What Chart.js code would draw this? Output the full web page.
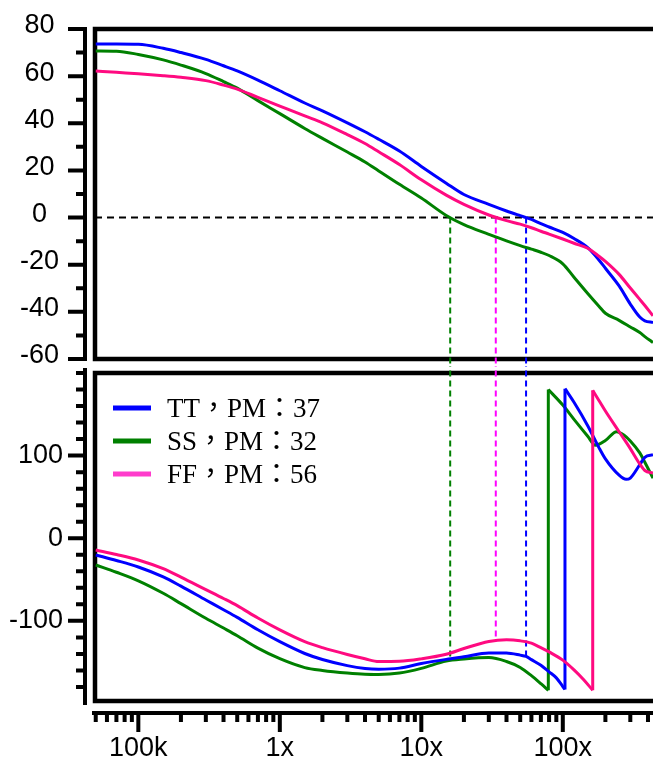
<!DOCTYPE html>
<html>
<head>
<meta charset="utf-8">
<title>Loop gain / phase</title>
<script src="https://cdn.jsdelivr.net/npm/chart.js@4.4.1/dist/chart.umd.min.js"></script>
<style>
  html, body { margin: 0; padding: 0; background: #fff; }
  #wrap { position: relative; width: 653px; height: 763px; overflow: hidden; }
  #wrap canvas { position: absolute; left: 0; }
  #gain { top: 0; }
  #phase { top: 366px; }
</style>
</head>
<body>
<div id="wrap">
  <canvas id="gain" width="653" height="366"></canvas>
  <canvas id="phase" width="653" height="397"></canvas>
</div>
<script>
// corners: TT, SS, FF
var names = ['TT', 'SS', 'FF'];
var pm = [37, 32, 56];
var crossFreq = [5.5e7, 1.6e7, 3.36e7];
var lineColors = ['#0000ff', '#008000', '#ff0a80'];
var legendColors = ['#0000ff', '#008000', '#ff3ccc'];
var markColors = ['#0000ff', '#008000', '#ff00ff'];
var drawOrder = [1, 2, 0];

// gain (dB)
var magFreq = [5e4, 7e4, 1e5, 1.5e5, 2e5, 3e5, 4e5, 5e5, 7e5, 1e6, 1.5e6, 2e6, 3e6, 4e6, 5e6, 7e6,
  1e7, 1.5e7, 2e7, 3e7, 4e7, 5e7, 6e7, 7e7, 8e7, 1e8, 1.2e8, 1.5e8, 1.8e8, 2e8, 2.5e8, 3e8, 3.5e8, 3.8e8, 4.34e8];
var magTT = [73.6, 73.6, 73.5, 71.8, 70.0, 67.1, 64.4, 62.2, 58.3, 53.8, 48.6, 45.3, 40.2, 36.4, 33.2, 28.2,
  21.7, 14.6, 9.8, 5.6, 2.8, 0.8, -0.8, -2.6, -4.0, -6.3, -8.9, -12.8, -18.0, -21.5, -29.0, -36.7, -42.2, -43.8, -44.5];
var magSS = [70.7, 70.6, 69.2, 66.9, 64.7, 61.1, 57.7, 54.9, 49.6, 44.1, 37.8, 33.6, 27.8, 23.6, 19.8, 14.1,
  8.3, 0.9, -3.0, -7.1, -9.9, -11.9, -13.4, -14.7, -16.1, -19.6, -25.3, -32.2, -37.6, -40.6, -43.6, -46.4, -48.8, -50.5, -53];
var magFF = [62.2, 61.6, 61.0, 60.2, 59.5, 58.1, 56.2, 54.5, 51.0, 47.3, 43.1, 40.2, 35.2, 31.4, 27.9, 22.5,
  16.0, 9.5, 5.6, 1.1, -1.3, -2.8, -4.3, -5.8, -7.0, -9.1, -10.9, -13.0, -16.4, -18.6, -24.1, -29.9, -34.7, -37.3, -41.7];

// phase (deg), wrapped at -180 -> +180 (the repeated frequency is the wrap)
var phFreqTT = [5e4, 7e4, 1e5, 1.5e5, 2e5, 3e5, 4e5, 5e5, 7e5, 1e6, 1.5e6, 2e6, 3e6, 4e6, 5e6, 7e6, 1e7, 1.5e7, 2e7, 3e7,
  4e7, 5e7, 5.5e7, 6e7, 7e7, 8e7, 9e7, 1e8, 1.036e8, 1.036e8, 1.2e8, 1.5e8, 1.8e8, 2e8, 2.5e8, 2.8e8, 3e8, 3.5e8, 3.8e8, 4.34e8];
var phTT = [-20.2, -26.9, -34.8, -46.8, -58.0, -74.7, -86.5, -95.8, -110.8, -125.2, -139.5, -146.8, -154.2, -157.6, -158.5, -157.2, -151.7, -146.6, -143.4, -138.8,
  -139.0, -141.5, -143, -146.9, -153.8, -161.7, -169, -179.5, -183, 181, 164.5, 136.2, 109.7, 96, 76.3, 71.3, 72.8, 89, 98, 101];
var phFreqSS = [5e4, 7e4, 1e5, 1.5e5, 2e5, 3e5, 4e5, 5e5, 7e5, 1e6, 1.5e6, 2e6, 3e6, 4e6, 5e6, 7e6, 1e7, 1.5e7, 2e7, 3e7,
  4e7, 5e7, 6e7, 7e7, 7.9e7, 7.9e7, 1e8, 1.2e8, 1.5e8, 1.7e8, 2e8, 2.4e8, 2.7e8, 3e8, 3.5e8, 3.8e8, 4.34e8];
var phSS = [-32.4, -41.2, -51.5, -66.6, -79.1, -96.9, -108.7, -118.0, -133.0, -145.8, -156.6, -160.1, -163.2, -164.6, -164.8, -163.2, -157.5, -148.6, -146.2, -144.5,
  -149.2, -156.4, -166.3, -176, -184, 180, 161.2, 143.9, 123.5, 112.5, 118.2, 129, 125, 117.7, 103.3, 92, 72.7];
var phFreqFF = [5e4, 7e4, 1e5, 1.5e5, 2e5, 3e5, 4e5, 5e5, 7e5, 1e6, 1.5e6, 2e6, 3e6, 4e6, 5e6, 7e6, 1e7, 1.5e7, 2e7, 3e7,
  4e7, 5e7, 6e7, 7e7, 8e7, 1e8, 1.2e8, 1.4e8, 1.627e8, 1.627e8, 1.8e8, 2e8, 2.5e8, 3e8, 3.5e8, 3.8e8, 4.34e8];
var phFF = [-14.2, -19.7, -26.3, -36.9, -47.1, -62.2, -72.9, -81.6, -96.6, -111.0, -125.2, -132.4, -140.7, -145.9, -149.3, -149.0, -146.0, -140.5, -133.5, -125.0,
  -123.0, -124.2, -127, -132.5, -137.6, -147.5, -159.3, -171, -184, 179, 166.8, 154, 128.9, 108.5, 89.9, 82, 78.8];

// axes
var xMin = 4.94e4, xMax = 4.34e8;
var freqTicks = [1e5, 1e6, 1e7, 1e8];
var freqLabels = ['100k', '1x', '10x', '100x'];
var magTicks = [-60, -40, -20, 0, 20, 40, 60, 80];
var magMinor = [-50, -30, -10, 10, 30, 50, 70];
var phTicks = [-100, 0, 100];
var phMinor = [-180, -160, -140, -120, -80, -60, -40, -20, 20, 40, 60, 80, 120, 140, 160, 180, 200];
var gapDb = -66, gapDeg = 215;

var tickFont = { family: '"Liberation Sans", Arial, sans-serif', size: 27 };

function freqMinor() {
  var out = [];
  for (var d = 1e4; d <= 1e8; d *= 10) {
    for (var k = 2; k <= 9; k++) {
      var v = k * d;
      if (v >= xMin && v <= xMax) out.push(v);
    }
  }
  return out;
}

function pts(freq, vals) {
  return freq.map(function (f, k) { return { x: f, y: vals[k] }; });
}

function curve(data, i, smooth) {
  return {
    label: names[i],
    data: data,
    borderColor: lineColors[i],
    borderWidth: 3,
    pointRadius: 0,
    cubicInterpolationMode: smooth ? 'monotone' : 'default',
    tension: 0,
    order: drawOrder[i]
  };
}

// phase trace: smooth branch, straight wrap jump, smooth branch
function phaseCurve(freq, vals, i) {
  var all = pts(freq, vals);
  var w = 0;
  while (w < freq.length - 1 && freq[w] !== freq[w + 1]) w++;
  return [
    curve(all.slice(0, w + 1), i, true),
    curve(all.slice(w, w + 2), i, false),
    curve(all.slice(w + 1), i, true)
  ];
}

function marker(data, i) {
  return {
    data: data,
    borderColor: markColors[i],
    borderWidth: 2,
    borderDash: [6, 4],
    pointRadius: 0,
    clip: false,
    order: 5
  };
}

// frame, offset y axis (and x axis on the lower panel)
var axisDecor = {
  id: 'axisDecor',
  beforeDatasetsDraw: function (chart, args, opts) {
    var ctx = chart.ctx;
    var a = chart.chartArea;
    var ys = chart.scales.y;
    var xs = chart.scales.x;
    ctx.save();
    ctx.strokeStyle = '#000';
    ctx.lineJoin = 'miter';
    ctx.lineWidth = 4.5;
    ctx.beginPath();
    ctx.moveTo(a.right + 4, a.top);
    ctx.lineTo(a.left, a.top);
    ctx.lineTo(a.left, a.bottom);
    ctx.lineTo(a.right + 4, a.bottom);
    ctx.stroke();

    var ax = a.left - 10;
    ctx.lineWidth = 4;
    ctx.beginPath();
    ctx.moveTo(ax, a.top - opts.over[0]);
    ctx.lineTo(ax, a.bottom + opts.over[1]);
    ctx.stroke();
    ctx.beginPath();
    opts.major.forEach(function (v) {
      var p = ys.getPixelForValue(v);
      ctx.moveTo(ax - 17, p); ctx.lineTo(ax, p);
    });
    opts.minor.forEach(function (v) {
      var p = ys.getPixelForValue(v);
      ctx.moveTo(ax - 9, p); ctx.lineTo(ax, p);
    });
    ctx.stroke();

    if (opts.xAxis) {
      var ay = a.bottom + 12;
      ctx.beginPath();
      ctx.moveTo(a.left - 3, ay); ctx.lineTo(a.right, ay);
      ctx.stroke();
      ctx.beginPath();
      freqTicks.forEach(function (v) {
        var p = xs.getPixelForValue(v);
        ctx.moveTo(p, ay); ctx.lineTo(p, ay + 19);
      });
      freqMinor().forEach(function (v) {
        var p = xs.getPixelForValue(v);
        ctx.moveTo(p, ay); ctx.lineTo(p, ay + 9);
      });
      ctx.stroke();
    }
    ctx.restore();
  }
};

var legendBox = {
  id: 'legendBox',
  afterDatasetsDraw: function (chart) {
    var ctx = chart.ctx;
    var a = chart.chartArea;
    ctx.save();
    ctx.font = '27px "Liberation Serif", "Noto Sans CJK TC", serif';
    ctx.textBaseline = 'alphabetic';
    ctx.textAlign = 'left';
    for (var i = 0; i < names.length; i++) {
      var ly = a.top + 35 + i * 33;
      ctx.strokeStyle = legendColors[i];
      ctx.lineWidth = 5;
      ctx.beginPath();
      ctx.moveTo(a.left + 18, ly); ctx.lineTo(a.left + 56, ly);
      ctx.stroke();
      ctx.fillStyle = '#000';
      ctx.fillText(names[i] + '，PM：' + pm[i], a.left + 72, ly + 9);
    }
    ctx.restore();
  }
};

function zeroPadding(scale) {
  scale.paddingTop = 0; scale.paddingBottom = 0;
  scale.paddingLeft = 0; scale.paddingRight = 0;
}

var base = {
  responsive: false,
  animation: false,
  devicePixelRatio: 1,
  events: []
};

// gain panel
var gainSets = [
  curve(pts(magFreq, magTT), 0, true),
  curve(pts(magFreq, magSS), 1, true),
  curve(pts(magFreq, magFF), 2, true),
  {
    data: [{ x: xMin, y: 0 }, { x: xMax, y: 0 }],
    borderColor: '#000', borderWidth: 2, borderDash: [7, 5], pointRadius: 0, order: 4
  }
];
crossFreq.forEach(function (f, i) {
  gainSets.push(marker([{ x: f, y: 0 }, { x: f, y: gapDb }], i));
});

new Chart(document.getElementById('gain'), {
  type: 'line',
  data: { datasets: gainSets },
  plugins: [axisDecor],
  options: Object.assign({}, base, {
    layout: { padding: { top: 29, right: 0, bottom: 7, left: 0 }, autoPadding: false },
    plugins: {
      legend: { display: false },
      tooltip: { enabled: false },
      axisDecor: { major: magTicks, minor: magMinor, over: [2, 2], xAxis: false }
    },
    scales: {
      x: { type: 'logarithmic', min: xMin, max: xMax, display: false },
      y: {
        min: -60, max: 80,
        grid: { display: false, drawTicks: false },
        border: { display: false },
        afterFit: function (s) { s.width = 95; zeroPadding(s); },
        afterBuildTicks: function (s) { s.ticks = magTicks.map(function (v) { return { value: v }; }); },
        ticks: {
          font: tickFont, color: '#000', padding: 36, crossAlign: 'center', labelOffset: -3,
          callback: function (v) { return String(v); }
        }
      }
    }
  })
});

// phase panel
var phaseSets = []
  .concat(phaseCurve(phFreqTT, phTT, 0))
  .concat(phaseCurve(phFreqSS, phSS, 1))
  .concat(phaseCurve(phFreqFF, phFF, 2));
crossFreq.forEach(function (f, i) {
  phaseSets.push(marker([{ x: f, y: gapDeg }, { x: f, y: pm[i] - 180 }], i));
});

new Chart(document.getElementById('phase'), {
  type: 'line',
  data: { datasets: phaseSets },
  plugins: [axisDecor, legendBox],
  options: Object.assign({}, base, {
    layout: { padding: { top: 7, right: 0, bottom: 0, left: 0 }, autoPadding: false },
    plugins: {
      legend: { display: false },
      tooltip: { enabled: false },
      axisDecor: { major: phTicks, minor: phMinor, over: [5, 4], xAxis: true }
    },
    scales: {
      x: {
        type: 'logarithmic', min: xMin, max: xMax,
        grid: { display: false, drawTicks: false },
        border: { display: false },
        afterFit: function (s) { s.height = 62; zeroPadding(s); },
        afterBuildTicks: function (s) { s.ticks = freqTicks.map(function (v) { return { value: v }; }); },
        ticks: {
          font: tickFont, color: '#000', padding: 31, autoSkip: false, maxRotation: 0,
          callback: function (v, i) { return freqLabels[i]; }
        }
      },
      y: {
        min: -197, max: 200,
        grid: { display: false, drawTicks: false },
        border: { display: false },
        afterFit: function (s) { s.width = 95; zeroPadding(s); },
        afterBuildTicks: function (s) { s.ticks = phTicks.map(function (v) { return { value: v }; }); },
        ticks: {
          font: tickFont, color: '#000', padding: 32, crossAlign: 'near',
          callback: function (v) { return String(v); }
        }
      }
    }
  })
});
</script>
</body>
</html>
